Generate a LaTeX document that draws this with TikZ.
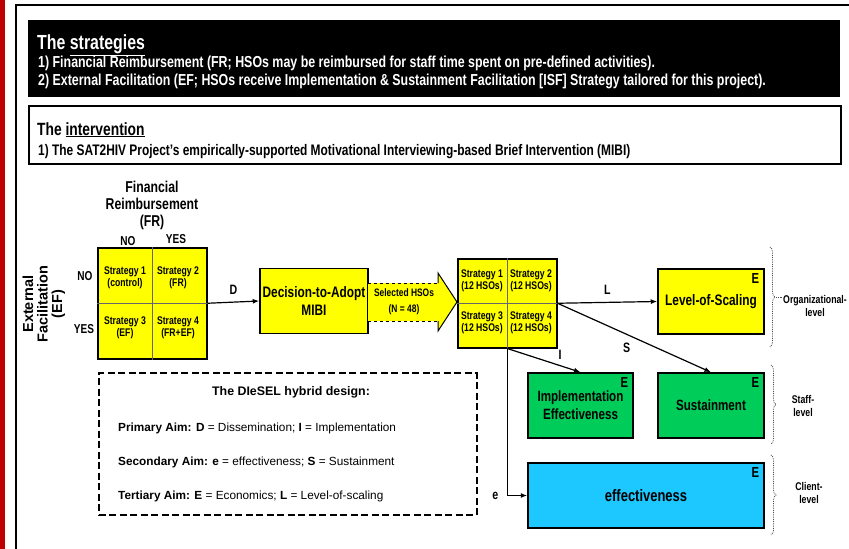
\documentclass[tikz,border=0pt]{standalone}
\usepackage{fontspec}
\setmainfont{Liberation Sans}
\newfontfamily\narr[FakeStretch=0.78]{Liberation Sans}
\usetikzlibrary{arrows.meta, positioning, calc, decorations.pathreplacing}
\definecolor{boxyellow}{RGB}{255,255,0}
\definecolor{boxgreen}{RGB}{0,204,90}
\definecolor{boxcyan}{RGB}{28,200,255}
\definecolor{barred}{RGB}{192,0,0}
\newcommand{\nb}[2]{\narr\bfseries\fontsize{#1}{#2}\selectfont}

\begin{document}
\begin{tikzpicture}[x=1pt, y=-1pt,
    ybox/.style={draw, line width=1.5pt, fill=boxyellow, inner sep=0pt},
    gbox/.style={draw, line width=1.5pt, fill=boxgreen, inner sep=0pt},
    econ/.style={label={[anchor=north east, inner sep=5.5pt, font=\nb{14.5}{15}]north east:E}},
    cell/.style={font=\nb{11.1}{12}, align=center, inner sep=0pt},
    arr/.style={-{Latex[length=6.5pt, width=5pt]}, line width=1.2pt},
    lvlbrace/.style={decorate, decoration={brace, amplitude=5pt}, densely dotted, line width=0.8pt, black!70},
    lvl/.style={font=\nb{11.2}{12.5}, align=center}]

    \useasboundingbox (0,0) rectangle (849,549);
    \fill[white] (0,0) rectangle (849,549);
    \fill[barred] (0,0) rectangle (5,549);
    \draw[line width=2.2pt] (16,549) -- (16,5) -- (849,5);

    % strategies
    \node[fill=black, minimum width=812, minimum height=77, anchor=north west, inner sep=0pt] (stratbox) at (28,20) {};
    \node[anchor=base west, text=white, font=\nb{20.4}{21}, inner sep=0pt] (strathead) at (37,49) {The \underline{strategies}};
    \node[anchor=base west, text=white, font=\nb{15.9}{16}, inner sep=0pt] (strat1) at (38,67) {1) Financial Reimbursement (FR; HSOs may be reimbursed for staff time spent on pre-defined activities).};
    \node[anchor=base west, text=white, font=\nb{15.9}{16}, inner sep=0pt] (strat2) at (38,85) {2) External Facilitation (EF; HSOs receive Implementation \& Sustainment Facilitation [ISF] Strategy tailored for this project).};

    % intervention
    \node[draw, line width=1.8pt, minimum width=812, minimum height=58, anchor=north west, inner sep=0pt] (intbox) at (28,105) {};
    \node[anchor=base west, font=\nb{17.7}{18}, inner sep=0pt] (inthead) at (37,135) {The \underline{intervention}};
    \node[anchor=base west, font=\nb{15.3}{16}, inner sep=0pt] (int1) at (38,155) {1) The SAT2HIV Project’s empirically-supported Motivational Interviewing-based Brief Intervention (MIBI)};

    % 2x2 factorial
    \node[font=\nb{15.7}{17}, align=center] (frhead) at (152,205) {Financial\\Reimbursement\\(FR)};
    \node[font=\nb{12.9}{13}] (frno) at (128,241) {NO};
    \node[font=\nb{12.9}{13}] (fryes) at (176,239) {YES};
    \node[font=\nb{12.9}{13}] (efno) at (85,276) {NO};
    \node[font=\nb{12.9}{13}] (efyes) at (84,329) {YES};
    \node[rotate=90, font=\bfseries\fontsize{14.5}{14.5}\selectfont, align=center] (efhead) at (44,304) {External\\Facilitation\\(EF)};

    \node[ybox, minimum width=109, minimum height=111, anchor=north west] (frgrid) at (97,247) {};
    \draw[line width=0.4pt, black!60] (frgrid.north) -- (frgrid.south) (frgrid.west) -- (frgrid.east);
    \node[cell] (fr1) at (125,278) {Strategy 1\\(control)};
    \node[cell] (fr2) at (178,278) {Strategy 2\\(FR)};
    \node[cell] (fr3) at (125,328) {Strategy 3\\(EF)};
    \node[cell] (fr4) at (178,328) {Strategy 4\\(FR+EF)};

    % decision and selection
    \node[ybox, minimum width=108, minimum height=65, align=center, font=\nb{15.2}{18}] (adopt) at (314,301) {Decision-to-Adopt\\MIBI};
    \draw[arr] (frgrid.east) -- (adopt.west) node[midway, above=4pt, font=\nb{13.6}{14}] (dlbl) {D};

    \fill[boxyellow] (368,283) -- (438,283) -- (438,273) -- (457,302) -- (438,331) -- (438,321) -- (368,321) -- cycle;
    \draw[dashed, line width=1pt] (368,283) -- (438,283) (368,321) -- (438,321);
    \draw[line width=1pt] (438,283) -- (438,273) -- (457,302) -- (438,331) -- (438,321);
    \node[cell, font=\nb{10.8}{16}] (hsos) at (404,302) {Selected HSOs\\(N = 48)};

    \node[ybox, minimum width=99, minimum height=89, anchor=north west] (hsogrid) at (457,258) {};
    \draw[line width=0.4pt, black!60] (hsogrid.north) -- (hsogrid.south) (hsogrid.west) -- (hsogrid.east);
    \node[cell] (hso1) at (482,281) {Strategy 1\\(12 HSOs)};
    \node[cell] (hso2) at (531,281) {Strategy 2\\(12 HSOs)};
    \node[cell] (hso3) at (482,323) {Strategy 3\\(12 HSOs)};
    \node[cell] (hso4) at (531,323) {Strategy 4\\(12 HSOs)};

    % outcomes
    \node[ybox, econ, minimum width=106, minimum height=65, font=\nb{15.2}{18}] (scaling) at (711,301.5) {Level-of-Scaling};
    \node[gbox, econ, minimum width=105, minimum height=65, align=center, font=\nb{14.9}{18}] (implement) at (580.5,405.5) {Implementation\\Effectiveness};
    \node[gbox, econ, minimum width=106, minimum height=65, font=\nb{14.9}{18}] (sustain) at (711,405.5) {Sustainment};
    \node[draw, line width=1.5pt, fill=boxcyan, econ, minimum width=236, minimum height=65, font=\nb{16.6}{18}] (effect) at (646,495.5) {effectiveness};

    \draw[arr] (hsogrid.east) -- (scaling.west) node[midway, above=4pt, font=\nb{13.6}{14}] (llbl) {L};
    \draw[arr] (hsogrid.east) -- (sustain.north) node[pos=0.45, below=5pt, font=\nb{13.6}{14}] (slbl) {S};
    \draw[arr] (hsogrid.south) -- (implement.north) node[pos=0.72, above=2pt, font=\nb{13.6}{14}] (ilbl) {I};
    \draw[arr] (hsogrid.south) |- (effect.west) node[pos=0.5, left=5pt, font=\nb{13.6}{14}] (elbl) {e};

    % levels
    \draw[lvlbrace] (770,247) -- (770,347);
    \draw[densely dotted, line width=0.8pt, black!70] (776,297) -- (782,297);
    \node[lvl] (orglvl) at (815,306) {Organizational-\\level};
    \draw[lvlbrace] (771,365) -- (771,444);
    \node[lvl] (stafflvl) at (803,406) {Staff-\\level};
    \draw[lvlbrace] (771,455) -- (771,535);
    \node[lvl] (clientlvl) at (809,493) {Client-\\level};

    % DIeSEL key
    \node[draw, line width=2pt, dash pattern=on 7pt off 3.5pt, minimum width=378, minimum height=142, anchor=north west, inner sep=0pt] (designbox) at (97.5,372) {};
    \node[anchor=base, font=\bfseries\fontsize{12.4}{13}\selectfont, inner sep=0pt] (designhead) at (291,395) {The DIeSEL hybrid design:};
    \node[anchor=base west, font=\fontsize{11.8}{13}\selectfont, inner sep=0pt] (aim1) at (118,431) {\textbf{Primary Aim: D} = Dissemination; \textbf{I} = Implementation};
    \node[anchor=base west, font=\fontsize{11.8}{13}\selectfont, inner sep=0pt] (aim2) at (118,465) {\textbf{Secondary Aim: e} = effectiveness; \textbf{S} = Sustainment};
    \node[anchor=base west, font=\fontsize{11.8}{13}\selectfont, inner sep=0pt] (aim3) at (118,499) {\textbf{Tertiary Aim: E} = Economics; \textbf{L} = Level-of-scaling};
\end{tikzpicture}
\end{document}
